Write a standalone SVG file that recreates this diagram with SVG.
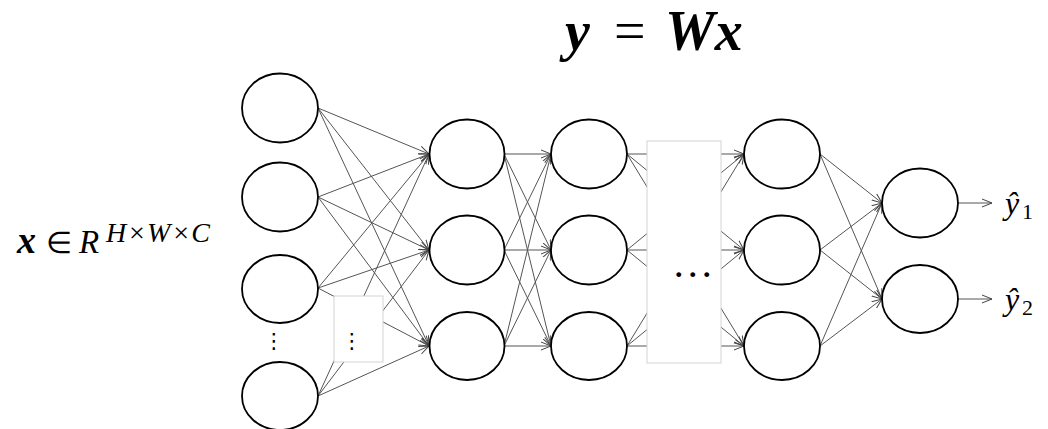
<svg xmlns="http://www.w3.org/2000/svg" width="1048" height="429" viewBox="0 0 1048 429">
<style>
.node{fill:#fff;stroke:#000;stroke-width:1.8}
.c line{stroke:#555;stroke-width:1;marker-end:url(#ah)}
.box{fill:#fff;stroke:#d4d4d4;stroke-width:1}
.m{font-family:"Liberation Serif",serif;fill:#000}
.dots{font-family:"DejaVu Sans",sans-serif;fill:#000}
</style>
<defs>
<marker id="ah" viewBox="0 0 10 10" refX="10" refY="5" markerWidth="10" markerHeight="10" markerUnits="userSpaceOnUse" orient="auto">
<path d="M0,1 L10,5 L0,9" fill="none" stroke="#444" stroke-width="1"/>
</marker>
</defs>
<rect width="1048" height="429" fill="#fff"/>
<g id="connectors" class="c">
<line x1="318" y1="108" x2="429" y2="154"/><line x1="318" y1="108" x2="429" y2="250"/><line x1="318" y1="108" x2="429" y2="346"/>
<line x1="318" y1="197" x2="429" y2="154"/><line x1="318" y1="197" x2="429" y2="250"/><line x1="318" y1="197" x2="429" y2="346"/>
<line x1="318" y1="288" x2="429" y2="154"/><line x1="318" y1="288" x2="429" y2="250"/><line x1="318" y1="288" x2="429" y2="346"/>
<line x1="318" y1="396" x2="429" y2="154"/><line x1="318" y1="396" x2="429" y2="250"/><line x1="318" y1="396" x2="429" y2="346"/>
<line x1="504" y1="154" x2="551" y2="154"/><line x1="504" y1="154" x2="551" y2="250"/><line x1="504" y1="154" x2="551" y2="346"/>
<line x1="504" y1="250" x2="551" y2="154"/><line x1="504" y1="250" x2="551" y2="250"/><line x1="504" y1="250" x2="551" y2="346"/>
<line x1="504" y1="346" x2="551" y2="154"/><line x1="504" y1="346" x2="551" y2="250"/><line x1="504" y1="346" x2="551" y2="346"/>
<line x1="627" y1="154" x2="744" y2="154"/><line x1="627" y1="154" x2="744" y2="250"/><line x1="627" y1="154" x2="744" y2="346"/>
<line x1="627" y1="250" x2="744" y2="154"/><line x1="627" y1="250" x2="744" y2="250"/><line x1="627" y1="250" x2="744" y2="346"/>
<line x1="627" y1="346" x2="744" y2="154"/><line x1="627" y1="346" x2="744" y2="250"/><line x1="627" y1="346" x2="744" y2="346"/>
<line x1="820" y1="154" x2="882" y2="203"/><line x1="820" y1="154" x2="882" y2="299"/>
<line x1="820" y1="250" x2="882" y2="203"/><line x1="820" y1="250" x2="882" y2="299"/>
<line x1="820" y1="346" x2="882" y2="203"/><line x1="820" y1="346" x2="882" y2="299"/>
<line x1="958" y1="203" x2="992" y2="203"/><line x1="958" y1="299" x2="992" y2="299"/>
</g>
<g id="in-gap"><rect class="box" x="334" y="296" width="49" height="66"/><text class="dots" x="352" y="348" font-size="21" text-anchor="middle">⋮</text></g>
<g id="hidden-gap"><rect class="box" x="647" y="141" width="74" height="222"/><text class="m" x="675" y="277" font-size="30" font-weight="bold" letter-spacing="6.5">...</text></g>
<g id="in1"><ellipse class="node" cx="280" cy="108" rx="38" ry="34.5"/></g>
<g id="in2"><ellipse class="node" cx="280" cy="197" rx="38" ry="34.5"/></g>
<g id="in3"><ellipse class="node" cx="280" cy="289" rx="38" ry="34"/></g>
<g id="in-dots"><text class="dots" x="274" y="348" font-size="21" text-anchor="middle">⋮</text></g>
<g id="in4"><ellipse class="node" cx="280" cy="396" rx="38" ry="34"/></g>
<g id="h1a"><ellipse class="node" cx="467" cy="154" rx="37.5" ry="34.5"/></g>
<g id="h1b"><ellipse class="node" cx="467" cy="250" rx="37.5" ry="34.5"/></g>
<g id="h1c"><ellipse class="node" cx="467" cy="346" rx="37.5" ry="34"/></g>
<g id="h2a"><ellipse class="node" cx="589" cy="154" rx="38" ry="34.5"/></g>
<g id="h2b"><ellipse class="node" cx="589" cy="250" rx="38" ry="34.5"/></g>
<g id="h2c"><ellipse class="node" cx="589" cy="346" rx="38" ry="34"/></g>
<g id="h3a"><ellipse class="node" cx="782" cy="154" rx="38" ry="34.5"/></g>
<g id="h3b"><ellipse class="node" cx="782" cy="250" rx="38" ry="34.5"/></g>
<g id="h3c"><ellipse class="node" cx="782" cy="346" rx="38" ry="34"/></g>
<g id="out1"><ellipse class="node" cx="920" cy="203" rx="38" ry="34.5"/></g>
<g id="out2"><ellipse class="node" cx="920" cy="299" rx="38" ry="34"/></g>
<g id="title"><text class="m" y="50" font-size="56" font-weight="bold" font-style="italic"><tspan x="565">y</tspan><tspan x="614" font-weight="normal" font-style="normal">=</tspan><tspan x="665">Wx</tspan></text></g>
<g id="input-label"><text class="m" y="253"><tspan x="17" font-size="38" font-weight="bold" font-style="italic">x</tspan><tspan x="46" font-size="30">∈</tspan><tspan x="79" font-size="33" font-style="italic">R</tspan><tspan x="106" y="242" font-size="28" font-style="italic" textLength="104" lengthAdjust="spacing">H×W×C</tspan></text></g>
<g id="y1"><text class="m" y="214" font-size="32"><tspan x="1005" font-style="italic">ŷ</tspan><tspan x="1022" y="219" font-size="22">1</tspan></text></g>
<g id="y2"><text class="m" y="310" font-size="32"><tspan x="1005" font-style="italic">ŷ</tspan><tspan x="1022" y="315" font-size="22">2</tspan></text></g>
</svg>
